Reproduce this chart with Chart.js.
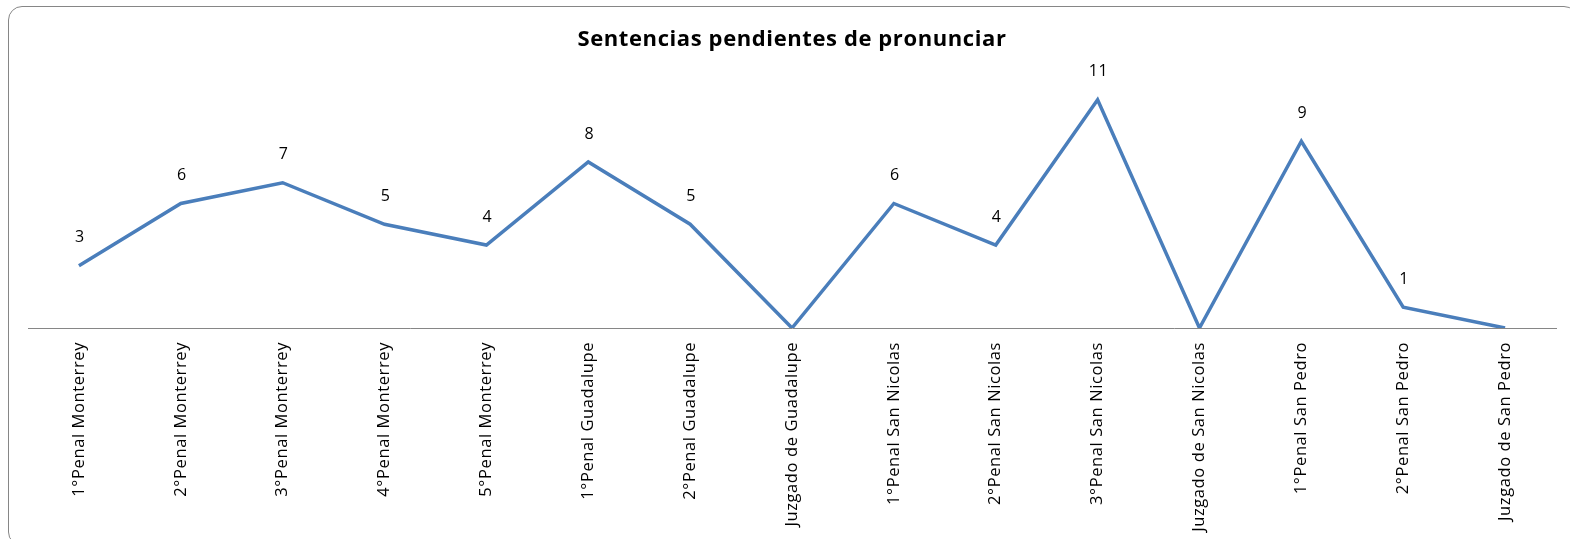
<!DOCTYPE html>
<html>
<head>
<meta charset="utf-8">
<script src="https://cdn.jsdelivr.net/npm/chart.js@4/dist/chart.umd.min.js"></script>
<style>
  html, body { margin: 0; padding: 0; background: #fff; overflow: hidden; }
  #wrap { position: relative; width: 1570px; height: 539px; }
  #frame { position: absolute; left: 8px; top: 6px; width: 1570px; height: 540px; border: 1px solid #868686; border-radius: 14px; pointer-events: none; box-sizing: border-box; }
  canvas { position: absolute; left: 0; top: 0; }
</style>
</head>
<body>
<div id="wrap">
  <canvas id="c" width="1570" height="539"></canvas>
  <div id="frame"></div>
</div>
<script>
const titleText = "Sentencias pendientes de pronunciar";
const categories = [
  "1°Penal Monterrey", "2°Penal Monterrey", "3°Penal Monterrey", "4°Penal Monterrey",
  "5°Penal Monterrey", "1°Penal Guadalupe", "2°Penal Guadalupe", "Juzgado de Guadalupe",
  "1°Penal San Nicolas", "2°Penal San Nicolas", "3°Penal San Nicolas", "Juzgado de San Nicolas",
  "1°Penal San Pedro", "2°Penal San Pedro", "Juzgado de San Pedro"
];
const values = [3, 6, 7, 5, 4, 8, 5, 0, 6, 4, 11, 0, 9, 1, 0];
const valueLabels = ["3", "6", "7", "5", "4", "8", "5", "", "6", "4", "11", "", "9", "1", ""];

const FONT = "'Open Sans', Carlito, Calibri, 'Liberation Sans', sans-serif";

const spacingPlugin = {
  id: 'spacing',
  beforeDraw(chart) { chart.ctx.letterSpacing = '0.6px'; },
  afterDraw(chart) { chart.ctx.letterSpacing = '0px'; }
};

const labelPlugin = {
  id: 'valueLabels',
  afterDatasetsDraw(chart) {
    const ctx = chart.ctx;
    const meta = chart.getDatasetMeta(0);
    ctx.save();
    ctx.font = "16px " + FONT;
    ctx.fillStyle = "#000";
    ctx.textAlign = "center";
    ctx.textBaseline = "middle";
    meta.data.forEach((pt, i) => {
      const t = valueLabels[i];
      if (t) ctx.fillText(t, pt.x + 1, pt.y - 28);
    });
    ctx.restore();
  }
};

new Chart(document.getElementById('c'), {
  type: 'line',
  data: {
    labels: categories,
    datasets: [{
      data: values,
      borderColor: '#4A7EBB',
      borderWidth: 3.5,
      pointRadius: 0,
      tension: 0,
      fill: false
    }]
  },
  options: {
    responsive: false,
    animation: false,
    layout: { padding: { left: 28, right: 14, top: 0, bottom: 0 } },
    plugins: {
      legend: { display: false },
      tooltip: { enabled: false },
      title: {
        display: true,
        text: titleText,
        color: '#000',
        font: { family: FONT, size: 22, weight: 'bold' },
        padding: { top: 27, bottom: 25.6 }
      }
    },
    scales: {
      x: {
        offset: true,
        grid: { display: true, drawOnChartArea: false, drawTicks: false },
        border: { display: true, color: '#868686', width: 1 },
        ticks: {
          color: '#000',
          font: { family: FONT, size: 16.5 },
          minRotation: 90,
          maxRotation: 90,
          padding: 14,
          autoSkip: false
        },
        afterFit(s) { s.height = 211; }
      },
      y: {
        display: false,
        min: 0,
        max: 12
      }
    }
  },
  plugins: [spacingPlugin, labelPlugin]
});
</script>
</body>
</html>
